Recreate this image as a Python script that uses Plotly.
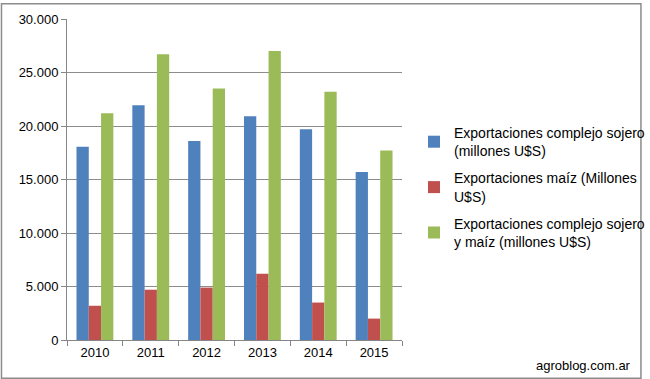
import plotly.graph_objects as go

years = ["2010", "2011", "2012", "2013", "2014", "2015"]
soja = [18050, 21950, 18600, 20900, 19700, 15700]
maiz = [3200, 4700, 4900, 6200, 3500, 2000]
total = [21200, 26700, 23500, 27000, 23200, 17700]
tick_vals = [0, 5000, 10000, 15000, 20000, 25000, 30000]

names = [
    "Exportaciones complejo sojero<br>(millones U$S)",
    "Exportaciones maíz (Millones<br>U$S)",
    "Exportaciones complejo sojero<br>y maíz (millones U$S)",
]
colors = ["#4F81BD", "#C0504D", "#9BBB59"]

fig = go.Figure()
for i, (vals, name, col) in enumerate(zip([soja, maiz, total], names, colors)):
    fig.add_trace(go.Bar(x=years, y=vals, name=name, marker_color=col,
                         marker_line_width=0, legendgroup=str(i)))

L, R, T, B = 67, 243, 16, 39
W, H = 650, 379
pw, ph = W - L - R, H - T - B

fig.update_layout(
    width=W, height=H,
    margin=dict(l=L, r=R, t=T, b=B),
    paper_bgcolor="white", plot_bgcolor="white",
    barmode="group", bargap=0.34, bargroupgap=0,
    separators=",.",
    font=dict(family="Liberation Sans, Arial, sans-serif", size=13, color="#000000"),
    showlegend=True,
    legend=dict(xref="container", yref="container",
                x=414 / W, y=1 - 117 / H, xanchor="left", yanchor="top",
                font=dict(size=14), traceorder="grouped", tracegroupgap=6,
                bgcolor="rgba(0,0,0,0)"),
    xaxis=dict(type="category", showline=True, linecolor="#868686", linewidth=1,
               ticks="outside", tickson="boundaries", ticklen=5, tickcolor="#868686",
               showgrid=False, tickfont=dict(size=13)),
    yaxis=dict(range=[0, 30000], tickvals=tick_vals, tickformat=",d",
               showline=True, linecolor="#868686", linewidth=1,
               ticks="outside", ticklen=5, tickcolor="#868686",
               showgrid=True, gridcolor="#8C8C8C", gridwidth=1,
               zeroline=False, tickfont=dict(size=13)),
    shapes=[dict(type="rect", xref="paper", yref="paper",
                 x0=(0.5 - L) / pw, x1=(W - 0.5 - L) / pw,
                 y0=-(B - 0.5) / ph, y1=(ph + T - 0.5) / ph,
                 line=dict(color="#8C8C8C", width=1.5))],
    annotations=[dict(text="agroblog.com.ar", xref="paper", yref="paper",
                      x=(641 - L) / pw, y=-(366 - 340) / ph, xanchor="right",
                      yanchor="middle", showarrow=False,
                      font=dict(size=13, color="#000000"))],
)

fig.write_html("out.html", config={"displayModeBar": False},
               post_script="document.body.style.margin='0';document.body.style.overflow='hidden';")
